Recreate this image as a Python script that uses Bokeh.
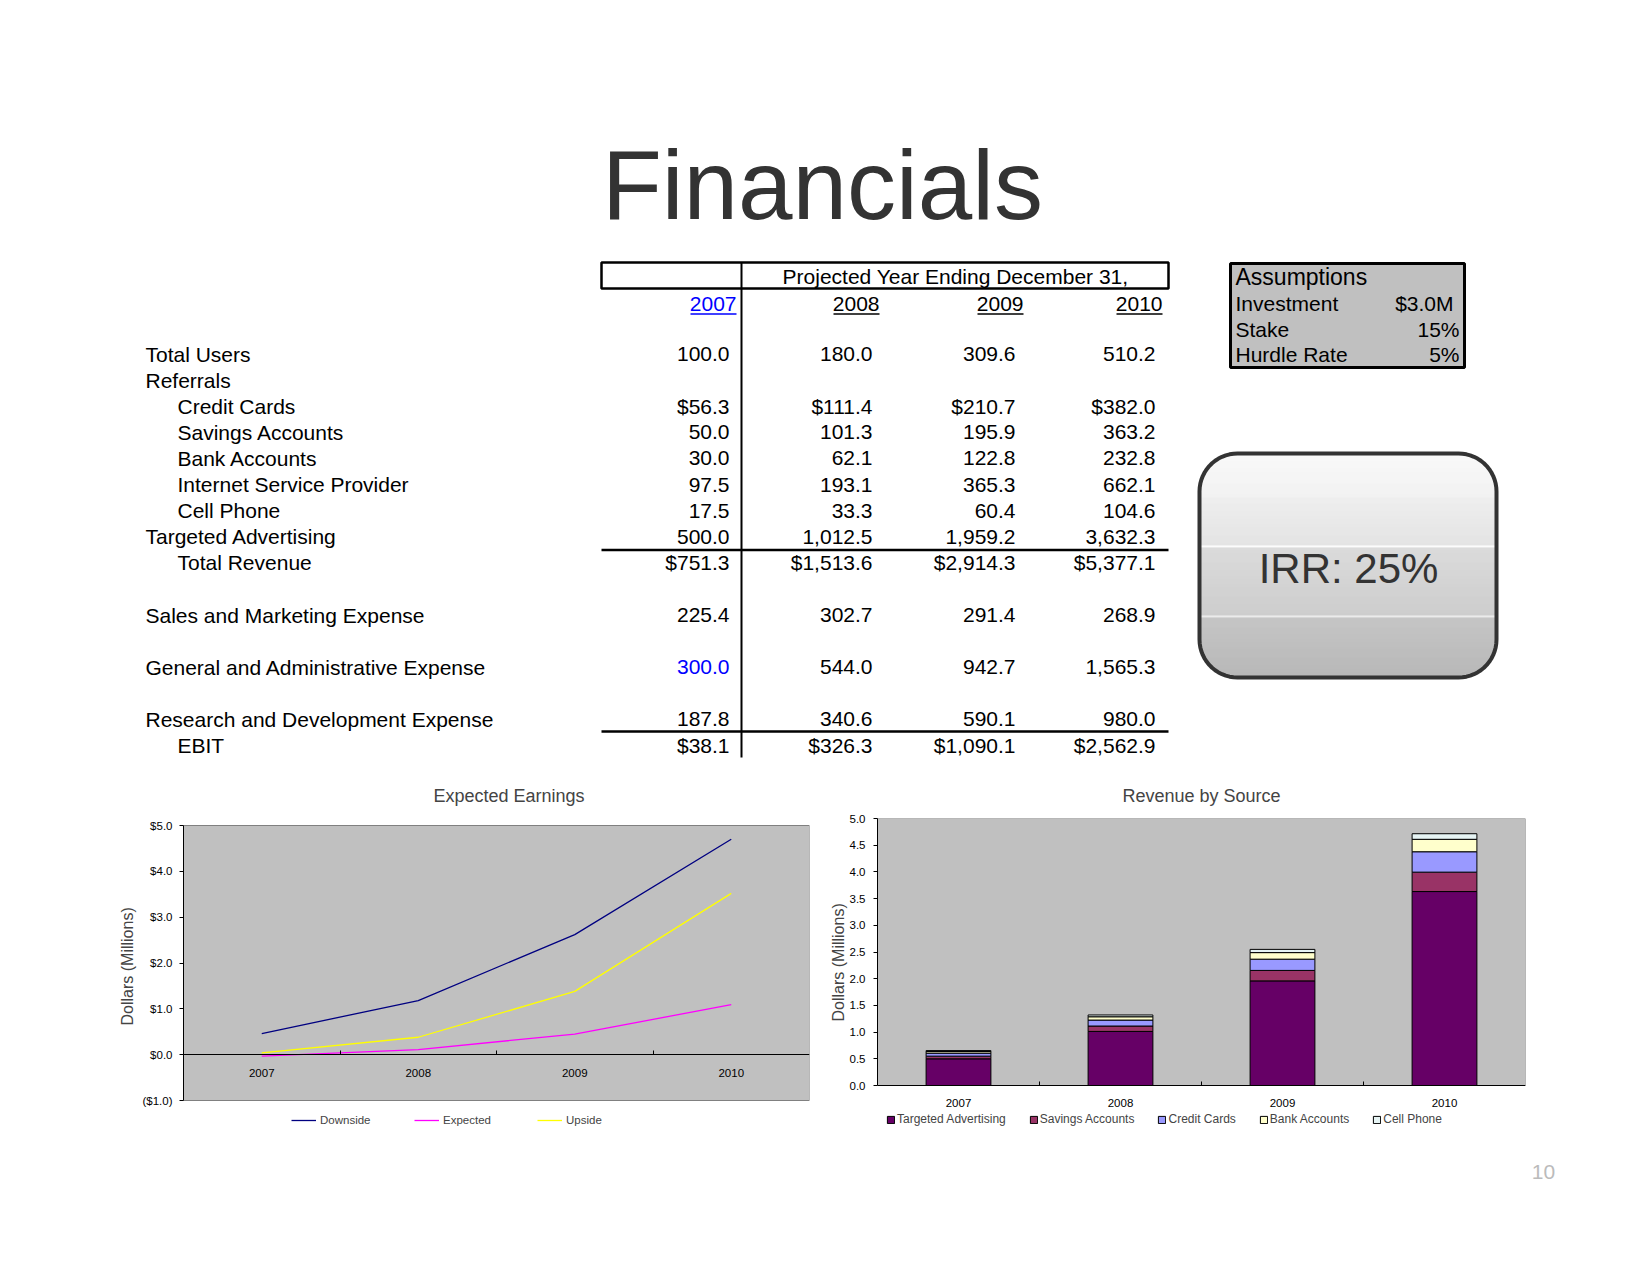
import numpy as np
from bokeh.plotting import figure
from bokeh.models import (Range1d, FixedTicker, NumeralTickFormatter, Legend,
                          LegendItem, ColumnDataSource, Title)
from bokeh.layouts import column, row
from bokeh.core.properties import value
from bokeh.embed import file_html
from bokeh.resources import INLINE

FONT = "Liberation Sans"

# ------------------------------------------------------------------ data
years = ["2007", "2008", "2009", "2010"]
header_text = "Projected Year Ending December 31,"
page_title = "Financials"
page_number = "10"

total_users = [100.0, 180.0, 309.6, 510.2]
credit_cards = [56.3, 111.4, 210.7, 382.0]
savings_accounts = [50.0, 101.3, 195.9, 363.2]
bank_accounts = [30.0, 62.1, 122.8, 232.8]
internet_service_provider = [97.5, 193.1, 365.3, 662.1]
cell_phone = [17.5, 33.3, 60.4, 104.6]
targeted_advertising = [500.0, 1012.5, 1959.2, 3632.3]
total_revenue = [751.3, 1513.6, 2914.3, 5377.1]
sales_marketing = [225.4, 302.7, 291.4, 268.9]
general_admin = [300.0, 544.0, 942.7, 1565.3]
research_dev = [187.8, 340.6, 590.1, 980.0]
ebit = [38.1, 326.3, 1090.1, 2562.9]

assumptions_title = "Assumptions"
assumption_labels = ["Investment", "Stake", "Hurdle Rate"]
assumption_values = ["$3.0M", "15%", "5%"]
irr_text = "IRR: 25%"

earn_downside = [0.46, 1.18, 2.62, 4.70]
earn_expected = [-0.03, 0.11, 0.45, 1.09]
earn_upside = [0.04, 0.38, 1.38, 3.52]
earn_min, earn_max = -1, 5

rev_sources = ["Targeted Advertising", "Savings Accounts", "Credit Cards",
               "Bank Accounts", "Cell Phone"]
rev_targeted = [0.5000, 1.0125, 1.9592, 3.6323]
rev_savings = [0.0500, 0.1013, 0.1959, 0.3632]
rev_credit = [0.0563, 0.1114, 0.2107, 0.3820]
rev_bank = [0.0300, 0.0621, 0.1228, 0.2328]
rev_cell = [0.0175, 0.0333, 0.0604, 0.1046]
rev_min, rev_max = 0, 5
rev_colors = ["#660066", "#993366", "#9999FF", "#FFFFCC", "#E6F4F4"]

y_label = "Dollars (Millions)"

# table rows: label, indent, values, prefix
table_rows = [
    ("Total Users", 0, total_users, ""),
    ("Referrals", 0, None, ""),
    ("Credit Cards", 1, credit_cards, "$"),
    ("Savings Accounts", 1, savings_accounts, ""),
    ("Bank Accounts", 1, bank_accounts, ""),
    ("Internet Service Provider", 1, internet_service_provider, ""),
    ("Cell Phone", 1, cell_phone, ""),
    ("Targeted Advertising", 0, targeted_advertising, ""),
    ("Total Revenue", 1, total_revenue, "$"),
    ("Sales and Marketing Expense", 0, sales_marketing, ""),
    ("General and Administrative Expense", 0, general_admin, ""),
    ("Research and Development Expense", 0, research_dev, ""),
    ("EBIT", 1, ebit, "$"),
]
row_slots = [0, 1, 2, 3, 4, 5, 6, 7, 8, 10, 12, 14, 15]
blue_cells = {("General and Administrative Expense", 0)}

# ------------------------------------------------------------------ layout
W = 1634
TOP_H = 770
ROW_H = 370
BOT_H = 60


def txt(p, xs, ys, texts, align="left", size="21px", color="black",
        baseline="middle"):
    p.text(x=xs, y=ys, text=texts, text_align=align, text_baseline=baseline,
           text_font=value(FONT), text_font_size=size, text_color=color)


def canvas(h, y0):
    p = figure(width=W, height=h, x_range=Range1d(0, W),
               y_range=Range1d(y0 + h, y0), output_backend="svg",
               toolbar_location=None, x_axis_location=None,
               y_axis_location=None, min_border=0)
    p.min_border_left = p.min_border_right = 0
    p.min_border_top = p.min_border_bottom = 0
    p.outline_line_color = None
    p.grid.visible = False
    p.background_fill_color = "white"
    p.border_fill_color = "white"
    return p


top = canvas(TOP_H, 0)

# title
txt(top, [822], [184], [page_title], align="center", size="98px",
    color="#333333")

# table frame
tx0, tx1, tdiv = 601, 1168, 741
top.quad(left=[tx0], right=[tx1], top=[262], bottom=[288], fill_color=None,
         line_color="black", line_width=2.5)
top.segment(x0=[tdiv], y0=[262], x1=[tdiv], y1=[757], line_color="black",
            line_width=2)
top.segment(x0=[tx0, tx0], y0=[549.5, 731], x1=[tx1, tx1], y1=[549.5, 731],
            line_color="black", line_width=2.5)
txt(top, [955], [276], [header_text], align="center")

year_right = [736, 879, 1023, 1162]
year_w = 46
txt(top, year_right[:1], [303], years[:1], align="right", color="#0000FF")
txt(top, year_right[1:], [303] * 3, years[1:], align="right")
top.segment(x0=[x - year_w for x in year_right], y0=[313.5] * 4,
            x1=year_right, y1=[313.5] * 4,
            line_color=["#0000FF", "black", "black", "black"], line_width=1.5)

val_right = [729, 872, 1015, 1155]
lab_x, lab_y, lab_t = [], [], []
vx, vy, vt, vc = [], [], [], []
for (label, ind, vals, pre), k in zip(table_rows, row_slots):
    y = 353.5 + 26.1 * k
    lab_x.append(145 + 32 * ind)
    lab_y.append(y)
    lab_t.append(label)
    if vals is None:
        continue
    for j, v in enumerate(vals):
        vx.append(val_right[j])
        vy.append(y)
        vt.append(f"{pre}{v:,.1f}")
        vc.append("#0000FF" if (label, j) in blue_cells else "black")
txt(top, lab_x, lab_y, lab_t)
top.text(x=vx, y=vy, text=vt, text_align="right", text_baseline="middle",
         text_font=value(FONT), text_font_size="21px", text_color=vc)

# assumptions box
top.quad(left=[1230], right=[1464], top=[263], bottom=[367],
         fill_color="#C0C0C0", line_color="black", line_width=3)
a_y = [303, 329, 354]
txt(top, [1235], [276], [assumptions_title], size="23px")
txt(top, [1235] * 3, a_y, assumption_labels)
txt(top, [1453, 1459, 1459], a_y, assumption_values, align="right")

# IRR box (rounded, glossy gradient)
bx0, by0, bx1, by1, rad = 1199, 453, 1496, 677, 38


def hex2rgb(h):
    return np.array([int(h[i:i + 2], 16) for i in (1, 3, 5)], float)


def lerp(c0, c1, t):
    c = hex2rgb(c0) * (1 - t) + hex2rgb(c1) * t
    return "#%02x%02x%02x" % tuple(int(round(v)) for v in c)


bands = [(453, 497, "#f8f8f8", "#f0f0f0"), (497, 545, "#ececec", "#e0e0e0"),
         (545, 547, "#fbfbfb", "#fbfbfb"), (547, 615, "#d6d6d6", "#c6c6c6"),
         (615, 617, "#e8e8e8", "#e8e8e8"), (617, 678, "#bdbdbd", "#adadad")]


def shade(y):
    for a, b, c0, c1 in bands:
        if a <= y < b:
            return lerp(c0, c1, (y - a) / max(b - a, 1))
    return "#adadad"


sy = np.arange(by0, by1, 1.0)
lefts, rights, cols = [], [], []
for y in sy:
    yc = y + 0.5
    if yc < by0 + rad:
        d = by0 + rad - yc
    elif yc > by1 - rad:
        d = yc - (by1 - rad)
    else:
        d = 0.0
    dx = rad - np.sqrt(max(rad * rad - d * d, 0.0))
    lefts.append(bx0 + dx)
    rights.append(bx1 - dx)
    cols.append(shade(yc))
top.quad(left=lefts, right=rights, top=list(sy), bottom=list(sy + 1.3),
         fill_color=cols, line_color=None)

rx, ry = [], []
for cx, cy, a0, a1 in [(bx1 - rad, by0 + rad, -90, 0), (bx1 - rad, by1 - rad, 0, 90),
                       (bx0 + rad, by1 - rad, 90, 180), (bx0 + rad, by0 + rad, 180, 270)]:
    for t in np.linspace(np.radians(a0), np.radians(a1), 16):
        rx.append(cx + rad * np.cos(t))
        ry.append(cy + rad * np.sin(t))
top.patch(rx, ry, fill_color=None, line_color="#333333", line_width=4)
txt(top, [1348], [568], [irr_text], align="center", size="42px",
    color="#333333")

# ------------------------------------------------------------------ charts
n = len(years)
x_pos = [i + 0.5 for i in range(n)]
bounds = list(range(1, n))
year_labels = {x: y for x, y in zip(x_pos, years)}

FR_TOP = 817          # page y of chart frames' top
FR_BOT = 1130         # page y of chart frames' bottom (room for legends)
FR_H = FR_BOT - FR_TOP


def extended_range(vmin, vmax, px_top, px_bot):
    """y range so that [vmin, vmax] spans page pixels px_bot..px_top"""
    upp = (vmax - vmin) / (px_bot - px_top)
    return Range1d(vmin - (FR_BOT - px_bot) * upp, vmax + (px_top - FR_TOP) * upp)


def style_chart(p, vmin, vmax, label_offset, label_standoff):
    p.background_fill_color = "white"
    p.border_fill_color = "white"
    p.outline_line_color = None
    p.grid.visible = False
    p.quad(left=[0], right=[n], bottom=[vmin], top=[vmax],
           fill_color="#C0C0C0", line_color="#808080", line_width=1)
    p.title.text_font = FONT
    p.title.text_font_size = "18px"
    p.title.text_font_style = "normal"
    for ax in p.axis:
        ax.axis_line_color = "black"
        ax.major_label_text_font = FONT
        ax.major_label_text_font_size = "11.5px"
        ax.major_label_text_color = "black"
    xa = p.xaxis[0]
    xa.ticker = FixedTicker(ticks=x_pos, minor_ticks=bounds)
    xa.major_label_overrides = year_labels
    xa.major_tick_line_color = None
    xa.major_tick_in = 0
    xa.major_tick_out = 0
    xa.minor_tick_in = 4
    xa.minor_tick_out = 0
    xa.minor_tick_line_color = "black"
    xa.fixed_location = 0
    ya = p.yaxis[0]
    ya.major_tick_in = 0
    ya.major_tick_out = 4
    ya.minor_tick_line_color = None
    ya.bounds = (vmin, vmax)
    p.add_layout(Title(text=y_label, align="left", offset=label_offset,
                       standoff=label_standoff, text_font=FONT,
                       text_font_size="16px", text_font_style="normal"),
                 "left")


def legend(items, loc, size, **kw):
    return Legend(items=items, orientation="horizontal", location=loc,
                  padding=2, margin=0, background_fill_alpha=0,
                  border_line_color=None, label_text_font=FONT,
                  label_text_font_size=size, label_height=12, **kw)


# Expected Earnings line chart
lc = figure(frame_width=626, frame_height=FR_H, x_range=Range1d(0, n),
            y_range=extended_range(earn_min, earn_max, 824, 1099),
            output_backend="svg", toolbar_location=None,
            title="Expected Earnings")
lc.min_border_left = 183
lc.min_border_right = 8
lc.min_border_top = FR_TOP - TOP_H
lc.min_border_bottom = TOP_H + ROW_H - FR_BOT
style_chart(lc, earn_min, earn_max, 106, 8)
lc.title.align = "left"
lc.title.offset = 250
lc.title.standoff = 26
lc.xaxis[0].major_label_standoff = 14
lc.yaxis[0].ticker = FixedTicker(ticks=list(range(earn_min, earn_max + 1)))
lc.yaxis[0].formatter = NumeralTickFormatter(format="($0.0)")
lc.yaxis[0].major_label_standoff = 7

r_down = lc.line(x_pos, earn_downside, line_color="#000080", line_width=1.3)
r_exp = lc.line(x_pos, earn_expected, line_color="#FF00FF", line_width=1.3)
r_up = lc.line(x_pos, earn_upside, line_color="#FFFF00", line_width=1.3)
lc.add_layout(legend([LegendItem(label="Downside", renderers=[r_down]),
                      LegendItem(label="Expected", renderers=[r_exp]),
                      LegendItem(label="Upside", renderers=[r_up])],
                     (108, 5), "11.5px", glyph_width=25, glyph_height=12,
                     label_width=91, spacing=3, label_standoff=4))

# Revenue by Source stacked bars
bc = figure(frame_width=648, frame_height=FR_H, x_range=Range1d(0, n),
            y_range=extended_range(rev_min, rev_max, 817, 1084),
            output_backend="svg", toolbar_location=None,
            title="Revenue by Source")
bc.min_border_left = 60
bc.min_border_right = 109
bc.min_border_top = FR_TOP - TOP_H
bc.min_border_bottom = TOP_H + ROW_H - FR_BOT
style_chart(bc, rev_min, rev_max, 110, 0)
bc.title.align = "center"
bc.title.standoff = 25
bc.xaxis[0].major_label_standoff = 13
bc.yaxis[0].ticker = FixedTicker(ticks=[i * 0.5 for i in range(11)])
bc.yaxis[0].formatter = NumeralTickFormatter(format="0.0")
bc.yaxis[0].major_label_standoff = 8

keys = ["targeted", "savings", "credit", "bank", "cell"]
src = ColumnDataSource(dict(x=x_pos, targeted=rev_targeted, savings=rev_savings,
                            credit=rev_credit, bank=rev_bank, cell=rev_cell))
rs = bc.vbar_stack(keys, x="x", width=0.4, source=src, fill_color=rev_colors,
                   line_color="black", line_width=1)
bc.add_layout(legend([LegendItem(label=lab, renderers=[r])
                      for lab, r in zip(rev_sources, rs)],
                     (9, 5), "12px", glyph_width=9, glyph_height=9,
                     spacing=23, label_standoff=2))

# ------------------------------------------------------------------ footer
bot = canvas(BOT_H, TOP_H + ROW_H)
txt(bot, [1543], [1170], [page_number], align="center", size="21px",
    color="#BBBBBB")

page = column(top, row(lc, bc), bot)
open("out.html", "w").write(file_html(page, INLINE))
